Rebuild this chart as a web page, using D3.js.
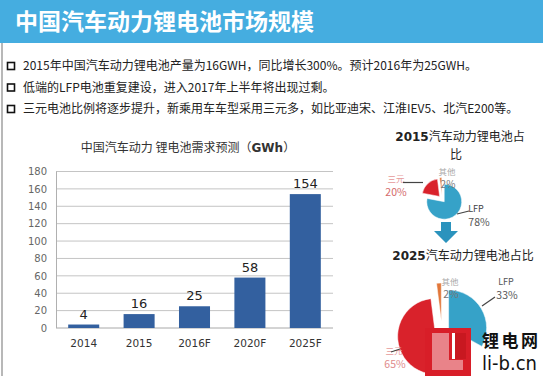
<!DOCTYPE html>
<html><head><meta charset="utf-8">
<script src="https://cdn.jsdelivr.net/npm/d3@7/dist/d3.min.js"></script>
<style>
html,body{margin:0;padding:0;background:#fff;}
svg{display:block;}
</style></head>
<body>
<svg id="c" width="543" height="376"></svg>
<script>
// ---------- data ----------
const pageTitle = "中国汽车动力锂电池市场规模";
const bullets = [
  "2015年中国汽车动力锂电池产量为16GWH，同比增长300%。预计2016年为25GWH。",
  "低端的LFP电池重复建设，进入2017年上半年将出现过剩。",
  "三元电池比例将逐步提升，新乘用车车型采用三元多，如比亚迪宋、江淮IEV5、北汽E200等。"
];
const categories = ["2014", "2015", "2016F", "2020F", "2025F"];
const demand = [4, 16, 25, 58, 154];
const yTicks = [0, 20, 40, 60, 80, 100, 120, 140, 160, 180];
const pieLabels = ["LFP", "三元", "其他"];
const share2015 = [78, 20, 2];
const share2025 = [33, 65, 2];

// ---------- drawing ----------
const svg = d3.select("#c");
const CJK = "'Noto Sans CJK SC','Noto Sans',sans-serif";

// title bar
svg.append("rect").attr("x",0).attr("y",0).attr("width",543).attr("height",43).attr("fill","#45ade0");
svg.append("text").attr("x",15).attr("y",30).attr("fill","#fff")
  .style("font-family",CJK).style("font-size","23px").style("font-weight","bold")
  .text(pageTitle);
// left border line
svg.append("line").attr("x1",2).attr("x2",2).attr("y1",43).attr("y2",376)
  .attr("stroke","#b8b8b8").attr("stroke-width",2);

// bullets
const bulletY = d3.scalePoint().domain(d3.range(bullets.length)).range([66,109]);
bullets.forEach((b,i)=>{
  const y = bulletY(i);
  svg.append("rect").attr("x",7.5).attr("y",y-3.5).attr("width",7).attr("height",7)
    .attr("fill","none").attr("stroke","#111").attr("stroke-width",1.6);
  svg.append("text").attr("x",23).attr("y",y+4.3).attr("fill","#222")
    .style("font-family",CJK).style("font-size","12px").text(b);
});

// bar chart
const x = d3.scaleBand().domain(categories).range([56,333]).paddingInner(0.44).paddingOuter(0.22);
const y = d3.scaleLinear().domain([0,180]).range([328,171.5]);
const g = svg.append("g");
g.selectAll("line.grid").data(yTicks).join("line").attr("class","grid")
  .attr("x1",56).attr("x2",333).attr("y1",d=>y(d)).attr("y2",d=>y(d))
  .attr("stroke",d=>d===0?"#a8a8a8":"#c4c4c4").attr("stroke-width",1);
g.append("line").attr("x1",56.5).attr("x2",56.5).attr("y1",y(180)).attr("y2",y(0)).attr("stroke","#b0b0b0");

const yAxis = g.append("g").attr("transform","translate(56,0)")
  .call(d3.axisLeft(y).tickValues(yTicks).tickSize(0).tickPadding(9));
yAxis.select(".domain").remove();
yAxis.selectAll("text").attr("fill","#666").style("font-family","'DejaVu Sans',sans-serif").style("font-size","10px");

const xAxis = g.append("g").attr("transform","translate(0,328)")
  .call(d3.axisBottom(x).tickSize(0).tickPadding(12));
xAxis.select(".domain").remove();
xAxis.selectAll("text").attr("fill","#333").style("font-family","'DejaVu Sans',sans-serif").style("font-size","10.5px");

g.selectAll("rect.bar").data(demand).join("rect").attr("class","bar")
  .attr("x",(d,i)=>x(categories[i])).attr("width",x.bandwidth())
  .attr("y",d=>y(d)).attr("height",d=>y(0)-y(d)).attr("fill","#33609f");
g.selectAll("text.val").data(demand).join("text").attr("class","val")
  .attr("x",(d,i)=>x(categories[i])+x.bandwidth()/2).attr("y",d=>y(d)-6)
  .attr("text-anchor","middle").attr("fill","#222")
  .style("font-family","'DejaVu Sans',sans-serif").style("font-size","13px").text(d=>d);

const ct = svg.append("text").attr("x",188).attr("y",152).attr("text-anchor","middle").attr("fill","#333")
  .style("font-family",CJK).style("font-size","12px");
ct.append("tspan").text("中国汽车动力 锂电池需求预测（");
ct.append("tspan").style("font-weight","bold").style("font-family","'DejaVu Sans',sans-serif").text("GWh");
ct.append("tspan").text("）");

// pie titles
function pieTitle(xc, yb, year, rest){
  const t = svg.append("text").attr("x",xc).attr("y",yb).attr("text-anchor","middle").attr("fill","#222")
    .style("font-size","12px");
  t.append("tspan").style("font-family","'DejaVu Sans',sans-serif").style("font-weight","bold").text(year);
  t.append("tspan").style("font-family",CJK).text(rest);
}
pieTitle(460,141,"2015","汽车动力锂电池占");
svg.append("text").attr("x",456).attr("y",159).attr("text-anchor","middle").attr("fill","#222")
  .style("font-family",CJK).style("font-size","12px").text("比");
pieTitle(463,260,"2025","汽车动力锂电池占比");

// pies
const colors = ["#36a2c8","#d9222b","#e2773a"];
const pie = d3.pie().sort(null).value(d=>d);
function drawPie(vals, cx, cy, r, explode){
  const arc = d3.arc().innerRadius(0).outerRadius(r);
  const pg = svg.append("g").attr("transform",`translate(${cx},${cy})`);
  pie(vals).forEach((a,i)=>{
    const m = (a.startAngle+a.endAngle)/2, e = explode[i];
    pg.append("path").attr("d",arc(a)).attr("fill",colors[i])
      .attr("transform",`translate(${e*Math.sin(m)},${-e*Math.cos(m)})`)
      .attr("stroke","#fff").attr("stroke-width",0.5);
  });
}
drawPie(share2015, 442, 199, 17.5, [3.5,3.5,4]);
drawPie(share2025, 442, 332, 38, [7.7,7.7,11]);

// pie labels
function lbl(xc, yb, txt, col, size){
  svg.append("text").attr("x",xc).attr("y",yb).attr("text-anchor","middle").attr("fill",col)
    .style("font-family",CJK).style("font-size",(size||9.5)+"px").text(txt);
}
function leader(x1,y1,x2,y2){
  svg.append("line").attr("x1",x1).attr("y1",y1).attr("x2",x2).attr("y2",y2).attr("stroke","#444").attr("stroke-width",1.2);
}
// 2015
lbl(447,175,pieLabels[2],"#aaa",8.5);
lbl(448,188,share2015[2]+"%","#777",10);
lbl(396,182,pieLabels[1],"#e69a9a",8.5);
lbl(396,196,share2015[1]+"%","#d46a6a",10.5);
leader(403,182.5,423,182.5);
lbl(476,211.5,pieLabels[0],"#444",9);
lbl(479,225.5,share2015[0]+"%","#555",10.5);
leader(457,214,469,211);
// 2025
lbl(506,284.5,pieLabels[0],"#555",9);
lbl(507,298.5,share2025[0]+"%","#555",10.5);
lbl(450,285,pieLabels[2],"#aaa",8.5);
lbl(451,298,share2025[2]+"%","#777",10.5);
leader(482,306,495,297);
lbl(394,354,pieLabels[1],"#e69a9a",8.5);
lbl(395,368,share2025[1]+"%","#e08a8a",10.5);
leader(391,352,400,349);

// arrow
svg.append("path").attr("d","M441,222 L451,222 L451,231 L458,231 L446,243 L434,231 L441,231 Z")
  .attr("fill","#2b93bd");

// watermark logo
const wm = svg.append("g");
wm.append("rect").attr("x",425).attr("y",328).attr("width",46).attr("height",48).attr("fill","#d81e28");
wm.append("path").attr("d","M432,333 L449,333 L449,360 L463,360 L463,370 L432,370 Z")
  .attr("fill","#fff").attr("fill-opacity",0.45);
wm.append("rect").attr("x",452).attr("y",333).attr("width",3).attr("height",26).attr("fill","#fff");
wm.append("rect").attr("x",455).attr("y",333).attr("width",11).attr("height",26).attr("fill","#c81820");
wm.append("text").attr("x",482).attr("y",347).attr("fill","#111")
  .attr("textLength",56).attr("lengthAdjust","spacing")
  .style("font-family",CJK).style("font-size","17px").style("font-weight","bold").text("锂电网");
wm.append("text").attr("x",482).attr("y",370).attr("fill","#111")
  .attr("textLength",55).attr("lengthAdjust","spacingAndGlyphs")
  .style("font-family","'DejaVu Sans',sans-serif").style("font-size","19px").text("li-b.cn");
</script>
</body></html>
